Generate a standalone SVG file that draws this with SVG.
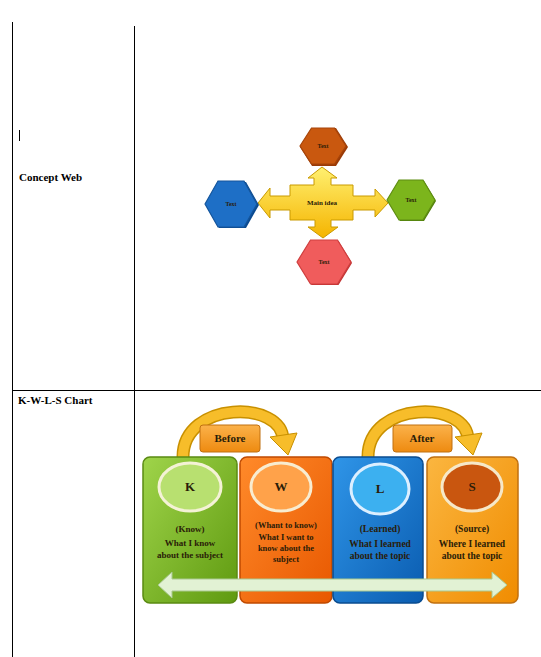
<svg xmlns="http://www.w3.org/2000/svg" width="541" height="657" viewBox="0 0 541 657">
<style>
.ln{stroke:#000;stroke-width:1;fill:none}
.lbl{font-family:"Liberation Serif","Times New Roman",serif;font-weight:bold;fill:#000}
.sm{font-family:"Liberation Serif","Times New Roman",serif;font-weight:bold;fill:#2a1c08;text-anchor:middle}
.hx{stroke-width:1.2}
.box{stroke-width:1.5}
.arcO{fill:none;stroke:#c89000;stroke-width:13}
.arcI{fill:none;stroke:#f7bd2a;stroke-width:10}
</style>
<defs>
<linearGradient id="gY" x1="0" y1="0" x2="0" y2="1"><stop offset="0" stop-color="#fff070"/><stop offset="1" stop-color="#f5b400"/></linearGradient>
<linearGradient id="gG" x1="0" y1="0" x2="1" y2="1"><stop offset="0" stop-color="#9fd44a"/><stop offset="1" stop-color="#5f9a10"/></linearGradient>
<linearGradient id="gO" x1="0" y1="0" x2="1" y2="1"><stop offset="0" stop-color="#ff8a2a"/><stop offset="1" stop-color="#e85800"/></linearGradient>
<linearGradient id="gB" x1="0" y1="0" x2="1" y2="1"><stop offset="0" stop-color="#2f95e8"/><stop offset="1" stop-color="#0a5cb0"/></linearGradient>
<linearGradient id="gS" x1="0" y1="0" x2="1" y2="1"><stop offset="0" stop-color="#fbb640"/><stop offset="1" stop-color="#f08c00"/></linearGradient>
<linearGradient id="gL" x1="0" y1="0" x2="0" y2="1"><stop offset="0" stop-color="#fbb24a"/><stop offset="1" stop-color="#ee8a10"/></linearGradient>
</defs>

<g id="table">
<line class="ln" x1="12.5" y1="22" x2="12.5" y2="657"/>
<line class="ln" x1="134.5" y1="26" x2="134.5" y2="657"/>
<line class="ln" x1="12" y1="390.5" x2="541" y2="390.5"/>
<line class="ln" x1="19.5" y1="130" x2="19.5" y2="141"/>
<text class="lbl" x="19" y="181" font-size="11">Concept Web</text>
<text class="lbl" x="18" y="404" font-size="11">K-W-L-S Chart</text>
</g>

<g id="concept-web">
<g id="main-idea">
<path d="M290,185 L314,185 L314,178 L308,178 L322,167 L337,178 L331,178 L331,185 L353,185 L353,196 L375,196 L375,189 L388,203 L375,217 L375,210 L353,210 L353,220 L331,220 L331,227 L338,227 L323,238 L308,227 L315,227 L315,220 L290,220 L290,210 L270,210 L270,218 L258,203 L270,188 L270,196 L290,196 Z" fill="url(#gY)" stroke="#c99a00" stroke-width="1"/>
<text class="sm" x="322" y="205" font-size="7" fill="#3a2a00">Main idea</text>
</g>
<g id="hex-top">
<path class="hx" d="M300,147 L312,128 L336,128 L348,147 L336,166 L312,166 Z" fill="#9a3a06" stroke="none"/>
<path class="hx" d="M300,146 L311.5,128 L334.5,128 L346,146 L334.5,164 L311.5,164 Z" fill="#c9580f" stroke="#a8450a"/>
<text class="sm" x="323" y="148" font-size="6">Text</text>
</g>
<g id="hex-left">
<path class="hx" d="M206,205 L219,182 L246,182 L259,205 L246,228 L219,228 Z" fill="#0a4a90" stroke="none"/>
<path class="hx" d="M205,204 L218,181 L244,181 L257,204 L244,227 L218,227 Z" fill="#1e6fc6" stroke="#14559c"/>
<text class="sm" x="231" y="206" font-size="6">Text</text>
</g>
<g id="hex-right">
<path class="hx" d="M388,201 L400,181 L424,181 L436,201 L424,221 L400,221 Z" fill="#4f7e0a" stroke="none"/>
<path class="hx" d="M387,200 L399,180 L423,180 L435,200 L423,220 L399,220 Z" fill="#7cb51c" stroke="#5f8e12"/>
<text class="sm" x="411" y="202" font-size="6">Text</text>
</g>
<g id="hex-bottom">
<path class="hx" d="M298,263 L311.5,241 L338.5,241 L352,263 L338.5,285 L311.5,285 Z" fill="#c03030" stroke="none"/>
<path class="hx" d="M297,262 L310.5,240 L337.5,240 L351,262 L337.5,284 L310.5,284 Z" fill="#f05c5c" stroke="#cf3e3e"/>
<text class="sm" x="324" y="264" font-size="6">Text</text>
</g>
</g>

<g id="kwls">
<g id="connectors">
<path class="arcO" d="M183,457 C183,400 283,400 283,440"/>
<path class="arcI" d="M183,457 C183,400 283,400 283,440"/>
<polygon points="270,437 297,433 288,455" fill="#f7bd2a" stroke="#c89000" stroke-width="1"/>
<path class="arcO" d="M368,457 C368,400 468,400 468,440"/>
<path class="arcI" d="M368,457 C368,400 468,400 468,440"/>
<polygon points="455,437 482,433 473,455" fill="#f7bd2a" stroke="#c89000" stroke-width="1"/>
</g>
<g id="box-k">
<rect class="box" x="143" y="457" width="94" height="146" rx="7" fill="url(#gG)" stroke="#5a8a12"/>
<ellipse cx="190" cy="487" rx="31" ry="24" fill="#b8e070" stroke="#f4f2d6" stroke-width="3"/>
<text class="sm" x="190" y="491" font-size="13" fill="#1a1a1a">K</text>
<text class="sm" x="190" y="532" font-size="9">(Know)</text>
<text class="sm" x="190" y="546" font-size="9">What I know</text>
<text class="sm" x="190" y="558" font-size="9">about the subject</text>
</g>
<g id="box-w">
<rect class="box" x="240" y="457" width="92" height="146" rx="7" fill="url(#gO)" stroke="#c04a00"/>
<ellipse cx="281" cy="487" rx="30" ry="24" fill="#ffa24a" stroke="#f8ecd0" stroke-width="3"/>
<text class="sm" x="281" y="491" font-size="13" fill="#1a1a1a">W</text>
<text class="sm" x="286" y="528" font-size="8.5">(Whant to know)</text>
<text class="sm" x="286" y="540" font-size="8.5">What I want to</text>
<text class="sm" x="286" y="551" font-size="8.5">know about the</text>
<text class="sm" x="286" y="562" font-size="8.5">subject</text>
</g>
<g id="box-l">
<rect class="box" x="333" y="457" width="90" height="146" rx="7" fill="url(#gB)" stroke="#0a4c90"/>
<ellipse cx="380" cy="489" rx="29" ry="25" fill="#3cb0f0" stroke="#dcefff" stroke-width="3"/>
<text class="sm" x="380" y="493" font-size="13" fill="#1a1a1a">L</text>
<text class="sm" x="380" y="532" font-size="9.5">(Learned)</text>
<text class="sm" x="380" y="547" font-size="9.5">What I learned</text>
<text class="sm" x="380" y="559" font-size="9.5">about the topic</text>
</g>
<g id="box-s">
<rect class="box" x="427" y="457" width="91" height="146" rx="7" fill="url(#gS)" stroke="#c07010"/>
<ellipse cx="472" cy="487" rx="30" ry="24" fill="#c9560f" stroke="#f6e8c8" stroke-width="3"/>
<text class="sm" x="472" y="491" font-size="13" fill="#1a1a1a">S</text>
<text class="sm" x="472" y="532" font-size="9.5">(Source)</text>
<text class="sm" x="472" y="547" font-size="9.5">Where I learned</text>
<text class="sm" x="472" y="559" font-size="9.5">about the topic</text>
</g>
<g id="double-arrow">
<path d="M158,585 L172,572 L172,579 L492,579 L492,572 L507,585 L492,598 L492,591 L172,591 L172,598 Z" fill="#e2f2d4" stroke="#a9c88f" stroke-width="1"/>
</g>
<g id="label-before">
<rect x="200" y="425" width="60" height="27" rx="3" fill="url(#gL)" stroke="#c07010"/>
<text class="sm" x="230" y="442" font-size="11" fill="#2a1a00">Before</text>
</g>
<g id="label-after">
<rect x="393" y="425" width="59" height="27" rx="3" fill="url(#gL)" stroke="#c07010"/>
<text class="sm" x="422" y="442" font-size="11" fill="#2a1a00">After</text>
</g>
</g>
</svg>
